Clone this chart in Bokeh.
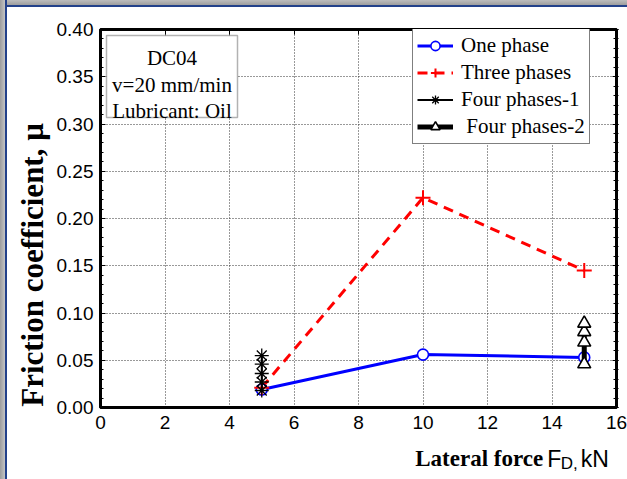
from bokeh.plotting import figure
from bokeh.layouts import column
from bokeh.models import (Range1d, LinearAxis, Legend, LegendItem, Label,
                          BoxAnnotation, FixedTicker, NumeralTickFormatter,
                          CustomJSTickFormatter)
from bokeh.embed import file_html
from bokeh.resources import INLINE

# ---------------- data ----------------
x_one = [5, 10, 15]
y_one = [0.019, 0.056, 0.053]

x_three = [5, 10, 15]
y_three = [0.021, 0.222, 0.145]

x_four1 = [5, 5, 5, 5, 5]
y_four1 = [0.018, 0.027, 0.036, 0.046, 0.055]

x_four2 = [15, 15, 15, 15]
y_four2 = [0.046, 0.069, 0.080, 0.089]

x_ticks = [0, 2, 4, 6, 8, 10, 12, 14, 16]
y_ticks = [0.0, 0.05, 0.10, 0.15, 0.20, 0.25, 0.30, 0.35, 0.40]
y_minor = [i / 100 for i in range(0, 41)]

series_labels = ["One phase", "Three phases", "Four phases-1", " Four phases-2"]
info_lines = ["DC04", "v=20 mm/min", "Lubricant: Oil"]
y_title = "Friction coefficient, \u03bc"
x_title_bold = "Lateral force"
x_title_sym, x_title_sub, x_title_unit = "F", "D,", "kN"

# ---------------- layout (page pixels; body padded 8px like the window) ----------------
PAD = 8
W, H = 619, 427                 # main figure
H2 = 479 - PAD - H              # strip under it for the x title
FL, FR, FT, FB = 92, 11, 21, 28
XMIN, XMAX, YMIN, YMAX = 0, 16, 0.0, 0.40
fw, fh = W - FL - FR, H - FT - FB

def dx(px):   # page pixel -> data x
    return XMIN + (px - PAD - FL) / fw * (XMAX - XMIN)

def dy(py):   # page pixel -> data y
    return YMIN + (H - FB - (py - PAD)) / fh * (YMAX - YMIN)

p = figure(width=W, height=H, output_backend="svg", toolbar_location=None,
           x_range=Range1d(XMIN, XMAX), y_range=Range1d(YMIN, YMAX),
           min_border_left=FL, min_border_right=FR,
           min_border_top=FT, min_border_bottom=FB,
           background_fill_color="white", border_fill_color="white")
p.outline_line_color = "black"
p.outline_line_width = 3

tick_font = "Liberation Sans"
xa = p.xaxis[0]
xa.ticker = FixedTicker(ticks=x_ticks)
xa.axis_line_width = 3
xa.major_tick_in = 0
xa.major_tick_out = 0
xa.minor_tick_in = 0
xa.minor_tick_out = 0
xa.major_label_standoff = 8
xa.major_label_text_font = tick_font
xa.major_label_text_font_size = "19px"
xa.major_label_text_color = "black"

ya = p.yaxis[0]
ya.ticker = FixedTicker(ticks=y_ticks, minor_ticks=y_minor)
ya.formatter = NumeralTickFormatter(format="0.00")
ya.axis_line_width = 3
ya.major_tick_in = 5
ya.major_tick_out = 0
ya.minor_tick_in = 3
ya.minor_tick_out = 0
ya.major_label_standoff = 7
ya.major_label_text_font = tick_font
ya.major_label_text_font_size = "19px"
ya.major_label_text_color = "black"
# y title: non-breaking spaces at its end push it down along the axis, as in the original
ya.axis_label = y_title + "\u00a0" * 12
ya.axis_label_text_font = "Liberation Serif"
ya.axis_label_text_font_style = "bold"
ya.axis_label_text_font_size = "31px"
ya.axis_label_text_color = "black"
ya.axis_label_standoff = 4

blank = CustomJSTickFormatter(code="return ''")
top = LinearAxis(ticker=FixedTicker(ticks=x_ticks), axis_line_width=3, formatter=blank,
                 major_tick_in=5, major_tick_out=0, minor_tick_in=0, minor_tick_out=0,
                 major_label_standoff=0)
p.add_layout(top, "above")
right = LinearAxis(ticker=FixedTicker(ticks=y_ticks, minor_ticks=y_minor), axis_line_width=3,
                   formatter=blank, major_tick_in=4, major_tick_out=2,
                   minor_tick_in=3, minor_tick_out=2, major_label_standoff=0)
p.add_layout(right, "right")

for g in (p.xgrid[0], p.ygrid[0]):
    g.grid_line_color = "#333333"
    g.grid_line_dash = "1 2"
    g.grid_line_width = 1
p.xgrid[0].ticker = FixedTicker(ticks=x_ticks)
p.ygrid[0].ticker = FixedTicker(ticks=y_ticks)

# ---------------- series ----------------
r1 = p.line(x_one, y_one, line_color="blue", line_width=3)
r3 = p.line(x_three, y_three, line_color="red", line_width=3, line_dash="10 7")
s1 = p.scatter(x_one, y_one, marker="circle", size=11, fill_color="white",
               line_color="blue", line_width=1.6)
s3 = p.scatter(x_three, y_three, marker="cross", size=15, line_color="red", line_width=2)
r4 = p.line(x_four1, y_four1, line_color="black", line_width=2)
s4 = p.scatter(x_four1, y_four1, marker="asterisk", size=14, line_color="black", line_width=1.3)
r5 = p.line(x_four2, y_four2, line_color="black", line_width=5)
s5 = p.scatter(x_four2, y_four2, marker="triangle", size=13, fill_color="white",
               line_color="black", line_width=1.6)

legend = Legend(items=[
    LegendItem(label=series_labels[0], renderers=[r1, s1]),
    LegendItem(label=series_labels[1], renderers=[r3, s3]),
    LegendItem(label=series_labels[2], renderers=[r4, s4]),
    LegendItem(label=series_labels[3], renderers=[r5, s5]),
], location=(312, 263), orientation="vertical")
legend.label_text_font = "Liberation Serif"
legend.label_text_font_size = "21px"
legend.label_text_color = "black"
legend.label_height = 23
legend.glyph_height = 23
legend.glyph_width = 36
legend.label_standoff = 8
legend.spacing = 2
legend.padding = 4
legend.margin = 0
legend.border_line_color = "black"
legend.border_line_width = 1.5
legend.background_fill_color = "white"
legend.background_fill_alpha = 1
p.add_layout(legend)

box = BoxAnnotation(left=dx(106), right=dx(237), top=dy(35), bottom=dy(117),
                    fill_color="white", fill_alpha=1, line_color="black", line_width=1.5)
p.add_layout(box)
cx = (dx(106) + dx(237)) / 2
for txt, by in zip(info_lines, [57, 84, 110]):
    p.add_layout(Label(x=cx, y=dy(by), text=txt, text_align="center",
                       text_baseline="alphabetic", text_font="Liberation Serif",
                       text_font_size="21px", text_color="black"))

# ---------------- x title strip ----------------
p2 = figure(width=W, height=H2, output_backend="svg", toolbar_location=None,
            x_range=Range1d(0, W), y_range=Range1d(0, H2),
            x_axis_location=None, y_axis_location=None,
            min_border=0, min_border_left=0, min_border_right=0,
            min_border_top=0, min_border_bottom=0,
            background_fill_color="white", border_fill_color="white")
p2.grid.visible = False
p2.outline_line_color = None

def sx(px):
    return px - PAD

def sy(py):
    return 479 - py

p2.add_layout(Label(x=sx(539), y=sy(458), text=x_title_bold, text_align="right",
                    text_baseline="alphabetic", text_font="Liberation Serif",
                    text_font_style="bold", text_font_size="23px", text_color="black"))
p2.add_layout(Label(x=sx(544), y=sy(458), text=x_title_sym, text_align="left",
                    text_baseline="alphabetic", text_font="Liberation Sans",
                    text_font_size="23px", text_color="black"))
p2.add_layout(Label(x=sx(560), y=sy(463), text=x_title_sub, text_align="left",
                    text_baseline="alphabetic", text_font="Liberation Sans",
                    text_font_size="17px", text_color="black"))
p2.add_layout(Label(x=sx(584), y=sy(458), text=x_title_unit, text_align="left",
                    text_baseline="alphabetic", text_font="Liberation Sans",
                    text_font_size="23px", text_color="black"))

lay = column(p, p2, spacing=0)

html = file_html(lay, INLINE)
chrome = ("<style>html,body{padding:0;margin:0;}"
          "body{padding:8px 0 0 8px;background-color:#ffffff;"
          "background-image:linear-gradient(to right,#9c9c9c 0px,#c4c4c4 5px,#23418a 5px,#23418a 7px,transparent 7px),"
          "linear-gradient(to bottom,#bdbdbd 0px,#9e9e9e 5px,#23418a 5px,#23418a 7px,#ffffff 7px);"
          "background-repeat:no-repeat;background-size:8px 100%,100% 8px;}</style></head>")
html = html.replace("</head>", chrome, 1)
open("out.html", "w").write(html)
